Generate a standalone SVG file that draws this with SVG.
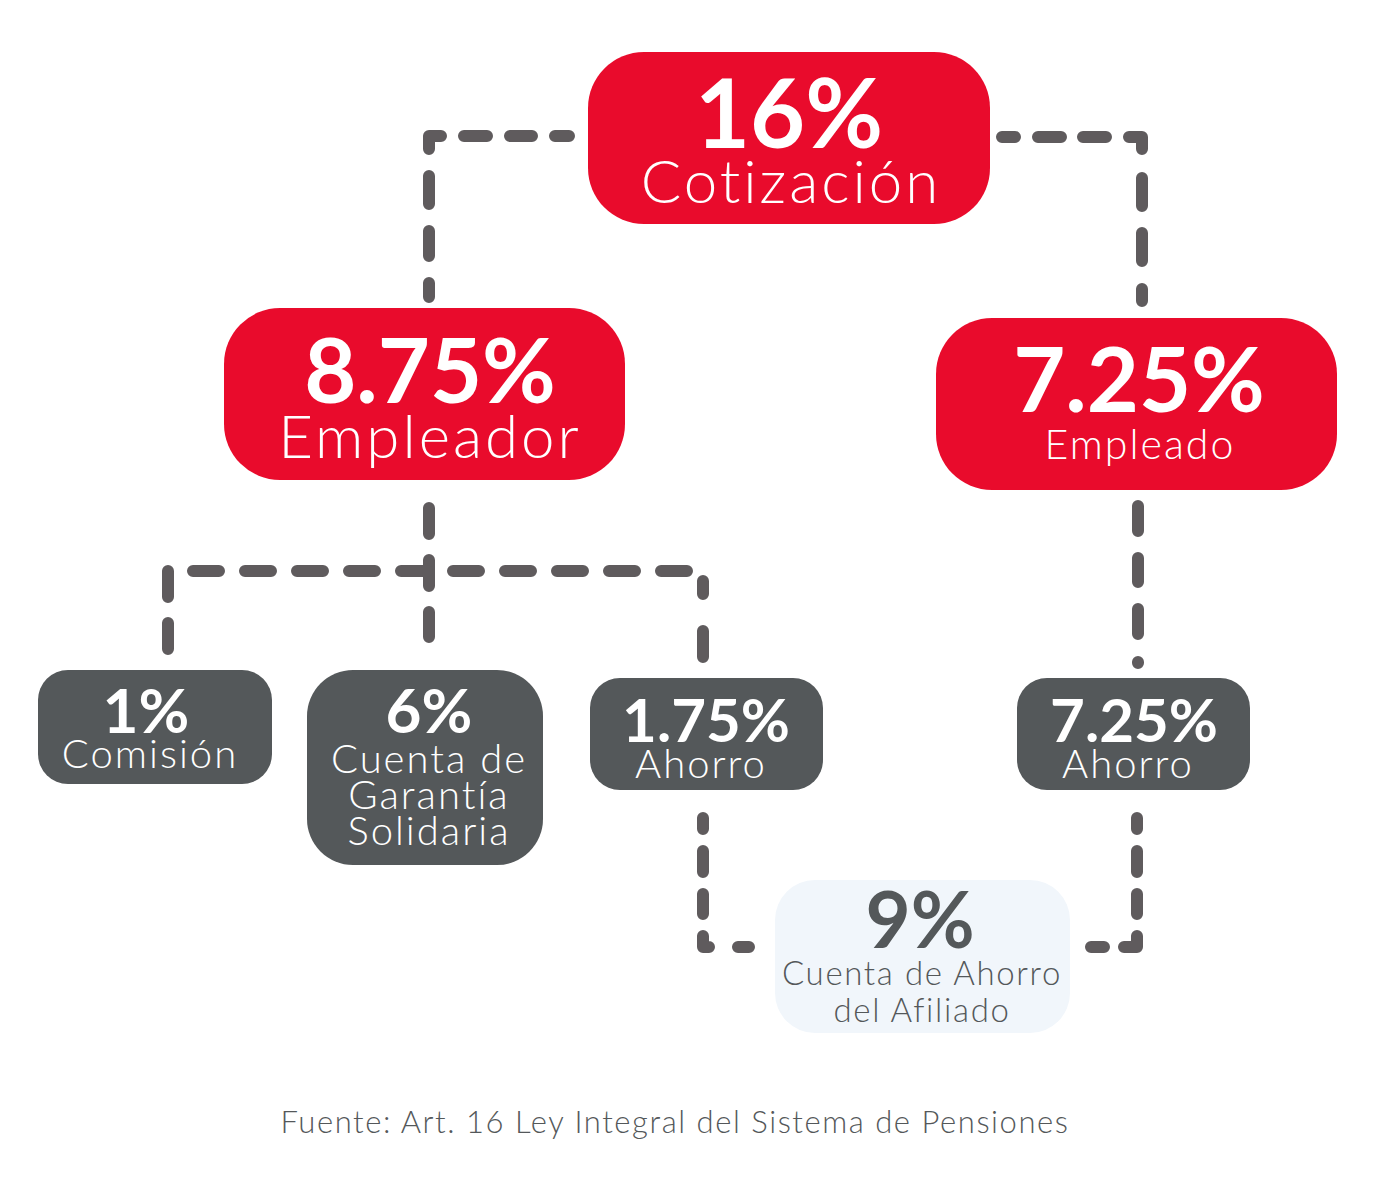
<svg xmlns="http://www.w3.org/2000/svg" width="1375" height="1191" viewBox="0 0 1375 1191">
<style>
.red{fill:#E90B2C}
.gray{fill:#54585A}
.light{fill:#F1F6FB}
text{font-family:Lato,"Open Sans","Liberation Sans",sans-serif;text-anchor:middle}
.w{fill:#FFFFFF}
.dk{fill:#54585A}
.b{font-weight:700}
.l{font-weight:300;letter-spacing:0.05em}
.c{fill:none;stroke:#5F5B5D;stroke-width:12;stroke-linecap:round;stroke-linejoin:round}
.dash{stroke-dasharray:26 26}
</style>
<rect width="1375" height="1191" fill="#FFFFFF"/>
<g id="connectors">
<path class="c" d="M464,136H487M510,136H532M555,136H569M441,136H429V149M429,176V204M429,231V256M429,283V297"/>
<path class="c" d="M1002,137H1015M1038,137H1061M1083,137H1106M1129,137H1142V149M1142,178V206M1142,233V261M1142,289V301"/>
<path class="c" d="M429,508V534M429,560V586M429,612V637"/>
<path class="c dash" d="M193,571H687"/>
<path class="c" d="M168,571V597M168,623V649"/>
<path class="c" d="M703,581V594M703,631V657"/>
<path class="c" d="M1138,506V531M1138,558V582M1138,609V634M1138,662V663"/>
<path class="c" d="M703,818V829M703,851V872M703,894V914M703,936V947H709M738,947H749"/>
<path class="c" d="M1137,818V829M1137,851V872M1137,894V914M1137,936V947H1124M1091,947H1104"/>
</g>
<g id="node-cotizacion">
<rect class="red" x="588" y="52" width="402" height="172" rx="56"/>
<text class="w b" x="789" y="148" font-size="95">16%</text>
<text class="w l" x="791" y="203" font-size="60">Cotización</text>
</g>
<g id="node-empleador">
<rect class="red" x="224" y="308" width="401" height="172" rx="56"/>
<text class="w b" x="430" y="403" font-size="90">8.75%</text>
<text class="w l" x="430" y="458" font-size="60">Empleador</text>
</g>
<g id="node-empleado">
<rect class="red" x="936" y="318" width="401" height="172" rx="56"/>
<text class="w b" x="1139" y="412" font-size="90">7.25%</text>
<text class="w l" x="1140" y="459" font-size="41">Empleado</text>
</g>
<g id="node-comision">
<rect class="gray" x="38" y="670" width="234" height="114" rx="30"/>
<text class="w b" x="146" y="733" font-size="62">1%</text>
<text class="w l" x="150" y="768" font-size="40">Comisión</text>
</g>
<g id="node-garantia">
<rect class="gray" x="307" y="670" width="236" height="195" rx="46"/>
<text class="w b" x="429" y="733" font-size="62">6%</text>
<text class="w l" x="429" y="773" font-size="40">Cuenta de</text>
<text class="w l" x="429" y="809" font-size="40">Garantía</text>
<text class="w l" x="429" y="845" font-size="40">Solidaria</text>
</g>
<g id="node-ahorro-empleador">
<rect class="gray" x="590" y="678" width="233" height="112" rx="30"/>
<text class="w b" x="706" y="742" font-size="60">1.75%</text>
<text class="w l" x="701" y="778" font-size="40">Ahorro</text>
</g>
<g id="node-ahorro-empleado">
<rect class="gray" x="1017" y="678" width="233" height="112" rx="30"/>
<text class="w b" x="1134" y="742" font-size="60">7.25%</text>
<text class="w l" x="1128" y="778" font-size="40">Ahorro</text>
</g>
<g id="node-cuenta-afiliado">
<rect class="light" x="775" y="880" width="295" height="153" rx="40"/>
<text class="dk b" x="920" y="948" font-size="78">9%</text>
<text class="dk l" x="922" y="985" font-size="33">Cuenta de Ahorro</text>
<text class="dk l" x="922" y="1022" font-size="33">del Afiliado</text>
</g>
<text class="dk l" x="675" y="1133" font-size="31" fill="#5A5A5A">Fuente: Art. 16 Ley Integral del Sistema de Pensiones</text>
</svg>
